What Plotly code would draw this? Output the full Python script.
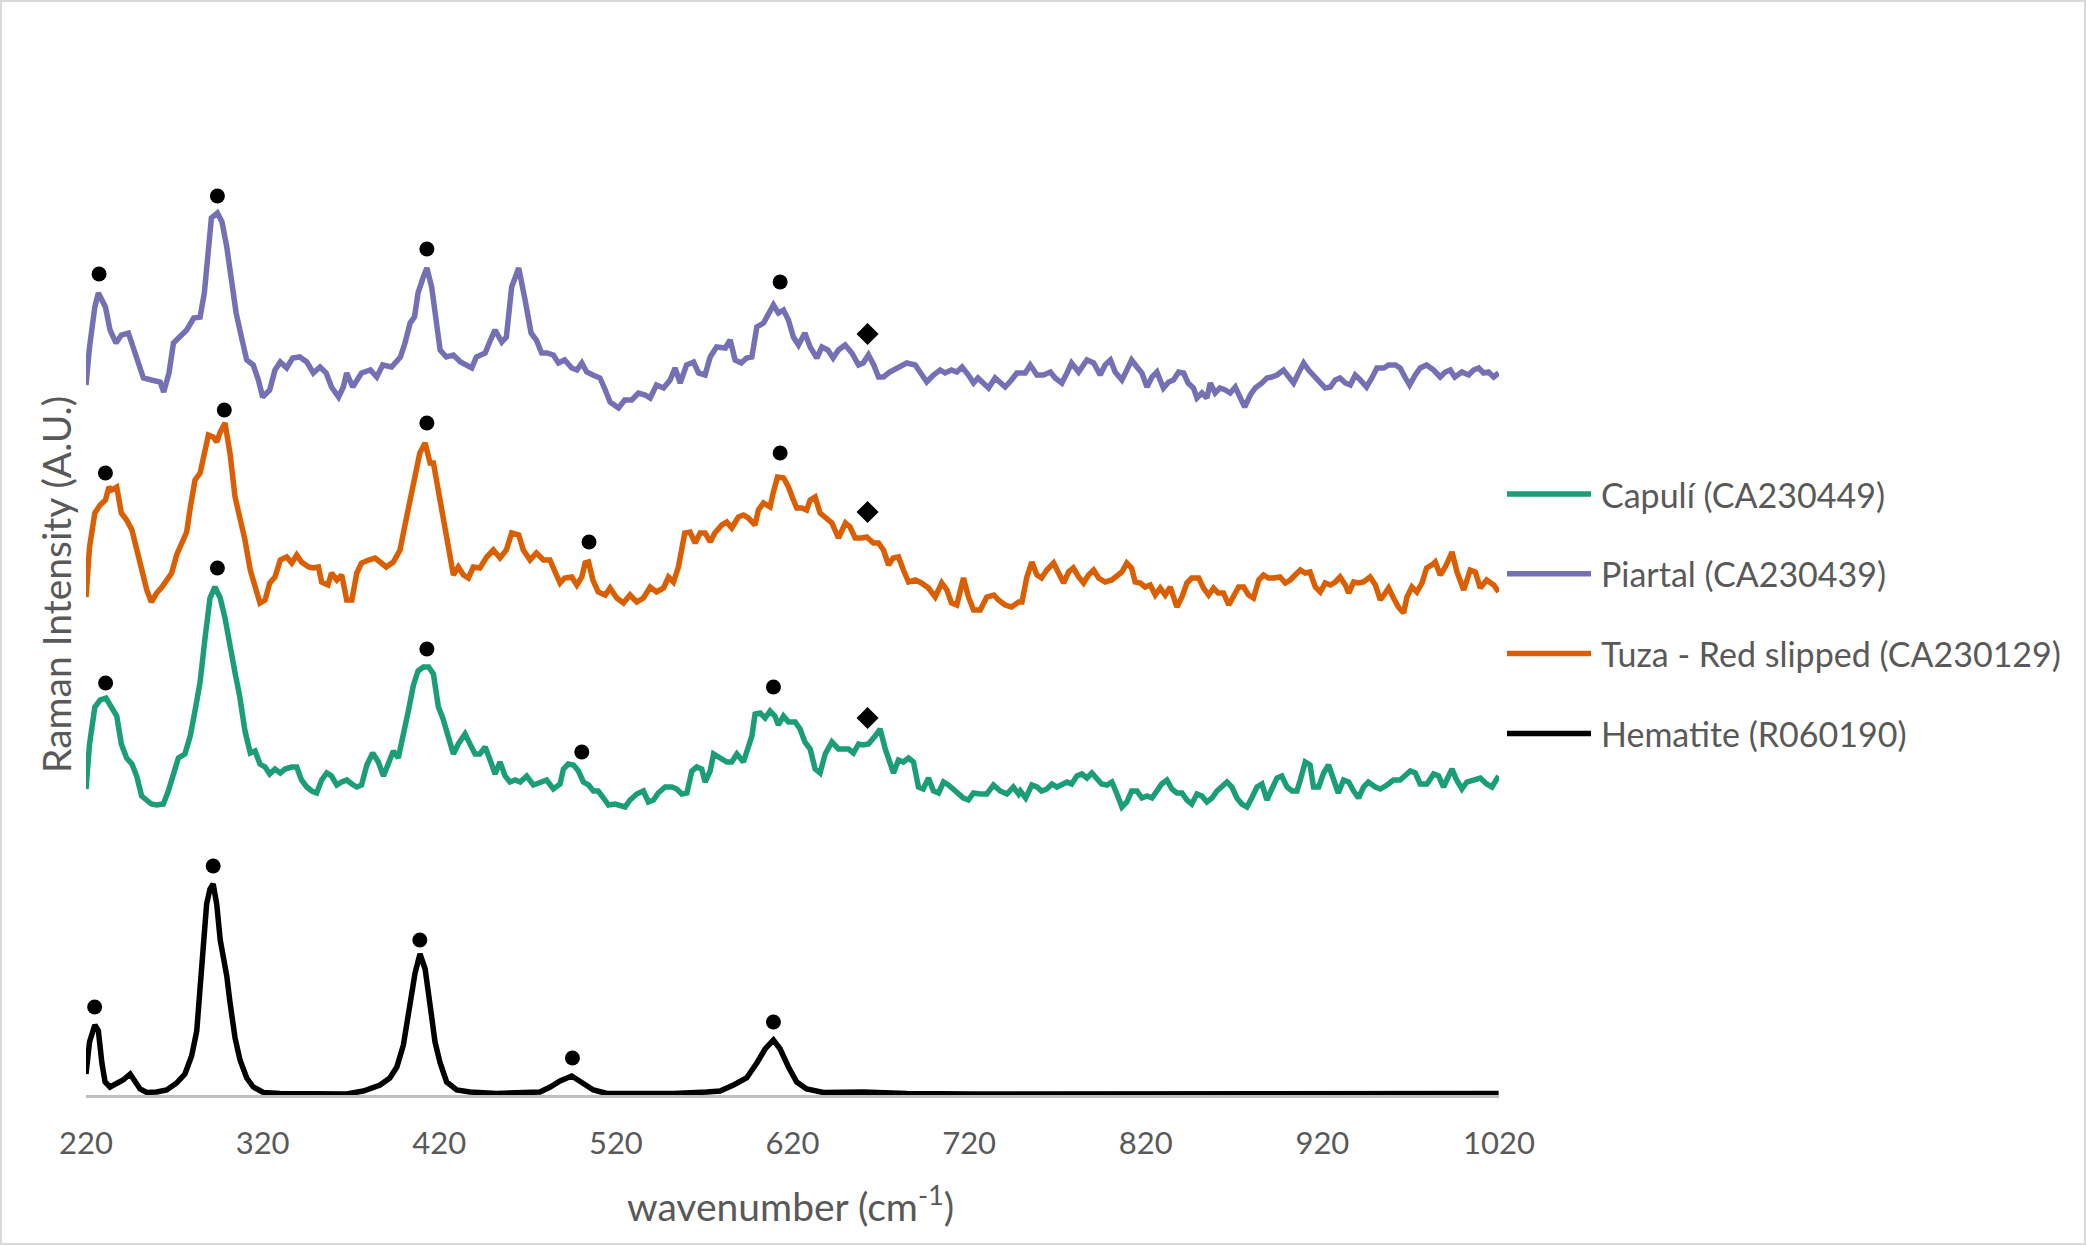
"""Raman spectra of red-slipped sherds vs hematite reference."""

import plotly.graph_objects as go

# ---- data (wavenumber in cm-1, intensity in arbitrary units, already offset) ----
PIARTAL_WN = [
    220, 222, 225, 227, 231, 233.6, 237, 240, 244, 247, 250, 252.5, 257, 262, 264, 267, 269.5, 273,
    277, 281, 284.6, 287, 289, 291, 294.4, 297, 299.7, 302.5, 305, 308, 311, 314.7, 317.6, 320, 324,
    327, 330, 333.6, 337, 341, 345, 348.7, 352.5, 356, 359, 363, 365.7, 367.6, 371, 376, 381, 384.6,
    388, 393, 398, 400.6, 403.5, 406, 408, 411, 413, 415.7, 417.6, 420.5, 424, 428, 432, 435.6, 438.4,
    441, 446, 449, 451.6, 455.4, 458, 461, 465, 468.6, 472, 475, 478, 481, 484.6, 487.5,
    491, 495, 498, 500.7, 503.5, 507, 511, 514, 516.7, 521.5, 525, 529, 532.8, 536.6, 539.4, 543, 547,
    550.7, 553.5, 556.4, 560, 564, 566.8, 570.5, 573.4, 577, 582, 584.7, 587.5, 591, 594, 597, 599.8,
    603.6, 606.4, 609.2, 612, 614.9, 617.7, 620.5, 623.4, 627, 630, 633.8, 636.6, 640, 643, 646, 649.8,
    653.6, 657.4, 660, 663, 666, 668.7, 671.5, 675, 680, 684.7, 689.5, 693, 696, 699.8, 703.6, 706.4,
    710, 713, 716, 719.6, 722.5, 725, 729, 731, 734.7, 737.5, 740.4, 744, 747,
    749, 751.8, 754.6, 758.4, 762, 766, 768.7, 772.5, 775.4, 778, 782, 786.7, 790.5, 794.2, 797, 800,
    802.7, 806.5, 809.3, 812, 815, 817.8, 820.7, 823.5, 826.3, 830, 833, 835.7, 838.6, 841.4, 844, 847,
    849, 851.8, 854.6, 856.5, 859.3, 862, 865, 867.8, 870.7, 873.5, 876, 879.2, 882, 885.8, 888.6,
    891.4, 894.3, 898, 900.9, 903.7, 906.5, 909.4, 912.2, 916, 918.8, 921.6, 924.5, 927.3, 930, 933,
    935.8, 938.6, 941.5, 945, 948, 950.9, 954.7, 957.5, 961.3, 964, 967, 969.4, 972.6, 975.4, 979, 983,
    986.7, 989.6, 992.4, 995, 999, 1002.8, 1005.6, 1008.5, 1011.3, 1014, 1017, 1019.8,
]
PIARTAL_I = [
    710, 748, 788, 802, 788, 765, 752, 760, 762, 745, 728, 717, 715, 713, 703, 722, 752, 758,
    765, 777, 778, 802, 848, 877, 882, 873, 848, 808, 782, 758, 735, 730, 715, 698, 705,
    725, 733, 727, 737, 738, 733, 722, 728, 722, 708, 698, 708, 722, 708, 722, 725, 718,
    730, 728, 738, 752, 772, 778, 802, 818, 827, 808, 782, 745, 738, 740, 733, 730, 727,
    738, 742, 755, 765, 753, 758, 808, 827, 795, 762, 755, 742, 742, 740, 732,
    735, 727, 725, 732, 723, 720, 717, 705, 693, 687, 695, 695, 702, 700, 697, 710, 707,
    715, 727, 712, 730, 733, 722, 720, 738, 748, 747, 755, 735, 732, 737, 738, 768,
    772, 780, 790, 782, 785, 775, 758, 750, 762, 748, 737, 748, 745, 737, 745, 750,
    742, 730, 732, 740, 730, 718, 718, 723, 727, 732, 730, 722, 713, 720, 725, 722,
    725, 723, 728, 720, 712, 717, 710, 707, 717, 713, 708, 715, 722,
    722, 722, 730, 720, 720, 723, 717, 712, 722, 732, 723, 735, 732, 720, 730, 735,
    723, 715, 725, 735, 728, 722, 708, 718, 723, 707, 713, 715, 723, 722, 712, 707,
    697, 702, 697, 712, 702, 707, 705, 702, 708, 698, 688, 700, 707, 712, 717,
    718, 720, 725, 718, 712, 722, 732, 725, 717, 713, 707, 708, 715, 717, 712,
    710, 720, 715, 708, 717, 727, 727, 730, 730, 727, 717, 710, 720, 727, 730, 725,
    718, 723, 725, 718, 723, 720, 725, 727, 722, 723, 718, 722,
]

TUZA_WN = [
    220, 222, 225, 228, 231, 233, 234.5, 237.4, 240, 243, 246, 248.7, 251.5, 254.4, 257, 260, 263,
    265.7, 268.5, 271.3, 274, 277, 279, 281.7, 284.6, 286.4, 289.3, 292, 294, 296, 298.7, 301.5, 304.4,
    307, 310, 313, 315.7, 318.5, 321.4, 324, 327, 330, 333.6, 336.5, 339.3, 342, 346, 348.7, 351.6,
    353.4, 357, 359, 362, 364.8, 367.6, 370.5, 373.3, 376, 380, 383.7, 386.5, 390, 394, 397.8, 400.6,
    403.5, 406, 409, 412, 414.8, 416.7, 419.5, 422, 425, 428, 430.8, 433.7, 436.5, 439.3, 443, 446.9,
    450.6, 454.4, 458, 461, 465, 467.6, 471.4, 475, 479, 482.7, 485.6, 488.4,
    491, 495, 497.9, 500.7, 502.6, 504.5, 507, 510, 514, 516.7, 520.5, 524.3, 528, 531.8, 535.6, 539.4,
    543, 547, 549.8, 552.6, 555.4, 557.3, 559, 562, 564.9, 567.7, 570.5, 573.4, 576, 580, 582.8, 585.6,
    589.4, 592.2, 595, 598.8, 600.7, 603.6, 607.3, 609.2, 611.5, 615, 617.7, 620.5, 622.4, 625.3, 628,
    630, 632.8, 635.6, 639.4, 642.3, 646, 650, 652.6, 655.5, 659, 662, 665.8, 668.7, 671.5, 674.4, 677,
    680, 682.8, 685.7, 689.5, 693, 697, 700.8, 704.5, 707.4, 710, 713, 716.8, 719.6, 722.5, 726.3, 730,
    734, 736.6, 740.4, 744, 748,
    749.9, 752.7, 755.5, 758.4, 761, 764, 767.8, 770.6, 773.5, 776.3, 779, 782, 784.8, 787.6, 790.5,
    793.3, 797, 800.8, 803.7, 806.5, 809.3, 812, 814, 816.9, 819.7, 822.5, 825.4, 828.2, 831, 833.9,
    837.6, 840.5, 843.3, 846, 850, 852.7, 855.6, 858.4, 861, 864, 867, 869.7, 872.6, 875.4, 878.2, 881,
    884, 886.7, 889.5, 892.4, 896, 899, 901.8, 904.6, 907.5, 910.3, 913, 916, 918.8, 921.6, 924.5,
    927.3, 930, 933, 934.9, 937.7, 940.5, 943.3, 947, 950, 952.8, 955.6, 957.5, 960.3, 963, 966, 967.9,
    970.7, 973.5, 976.4, 979, 982, 983.9, 986.7, 989.6, 993.4, 996.2, 1000, 1003.7, 1006.6, 1009.4,
    1013, 1017, 1019.8,
]
TUZA_I = [
    498, 548, 582, 590, 595, 608, 605, 608, 582, 575, 565, 545, 522, 505, 493, 502, 508,
    515, 522, 540, 552, 563, 587, 615, 622, 638, 660, 658, 653, 663, 672, 642, 598,
    578, 555, 525, 508, 492, 495, 512, 518, 535, 538, 532, 540, 533, 528, 527, 528,
    513, 510, 522, 515, 520, 495, 495, 522, 532, 535, 537, 533, 528, 533, 545, 570,
    595, 622, 642, 652, 632, 632, 605, 575, 545, 520, 528, 520, 517, 528, 527, 538,
    545, 537, 545, 562, 560, 545, 535, 542, 535, 535, 523, 512,
    517, 518, 510, 518, 532, 533, 515, 503, 500, 507, 497, 492, 500, 493, 497, 508,
    503, 507, 518, 513, 528, 548, 562, 563, 552, 562, 562, 553, 562, 570, 573, 567,
    578, 580, 577, 570, 585, 592, 588, 603, 618, 617, 608, 595, 587, 587, 585,
    595, 598, 582, 577, 572, 557, 572, 568, 557, 557, 558, 552, 552, 545, 530, 537,
    538, 525, 513, 515, 512, 507, 498, 512, 505, 492, 490, 517, 498, 485, 485, 498,
    500, 495, 490, 488, 493,
    493, 518, 533, 520, 517, 525, 532, 522, 512, 523, 527, 518, 512, 520, 525,
    517, 513, 515, 520, 523, 532, 527, 513, 512, 508, 510, 500, 507, 500, 508,
    488, 498, 512, 517, 517, 507, 500, 507, 502, 502, 490, 500, 508, 508, 500, 497,
    515, 520, 517, 517, 518, 512, 515, 520, 525, 522, 523, 508, 503, 512, 510,
    513, 518, 510, 502, 513, 512, 513, 518, 510, 495, 502, 507, 497, 488, 482, 498,
    508, 503, 512, 527, 530, 533, 520, 528, 543, 523, 505, 525, 523, 507,
    515, 510, 503,
]

CAPULI_WN = [
    220, 222, 225, 228, 231.3, 234.5, 237.4, 240, 243, 246, 248.7, 251.5, 254.4, 257, 260, 263.8,
    266.6, 269.5, 272.3, 276, 279, 281.7, 284.6, 287.4, 290.2, 293, 296, 298.7, 301.5, 304.4, 307, 310,
    313, 315.7, 318.5, 321.4, 324, 327, 330, 332.7, 336.5, 339.3, 342, 345, 347.8, 350.6, 353.4, 356.3,
    359, 362, 364.8, 367.6, 370.5, 373.3, 376, 379, 382.3, 385.5, 388.4, 391, 394, 396.8, 399.7, 402.5,
    405.4, 408, 411, 414, 416.7, 419.5, 422, 425, 428, 430.8, 434.6, 437.4, 440.3, 443, 446, 448.8,
    451.6, 454.4, 457.3, 460, 463, 465.8, 469.5, 473.3, 477, 480.8, 484.6, 488.4,
    490.3, 493, 496, 498.8, 501.6, 504.5, 507.3, 510, 513, 515.8, 519.6, 522.4, 525.2, 528, 531.8,
    535.6, 538.4, 541.3, 544, 547.9, 551.7, 554.5, 557.3, 560.2, 563, 565.8, 568.6, 570.5, 573.4, 575.3,
    579, 582.8, 585.6, 588.5, 592.2, 595, 597, 598.8, 601.7, 604.5, 607.3, 610, 612, 614.9, 617.7,
    621.5, 624.3, 627, 630, 632.8, 635.6, 638.5, 642.3, 646, 648.9, 651.7, 654.5, 657.4, 660, 663,
    666.8, 669.6, 672.5, 675.3, 677.2, 680, 682.8, 685.7, 688.5, 691.3, 694, 697, 699.8, 702.7, 705.5,
    708.3, 711, 714, 716.8, 719.6, 722.5, 726.3, 730, 733.8, 737.6, 741.4, 745, 748,
    749, 752, 755.5, 758.4, 761, 764, 766.9, 769.7, 772.5, 775.4, 778, 781, 783.8, 786.7, 789.5, 792.3,
    795, 798, 800.8, 803.7, 806.5, 809.3, 812, 815, 817.8, 820.7, 823.5, 826.3, 829, 832, 834.8, 837.6,
    840.5, 843.3, 846, 849, 851.8, 854.6, 857.5, 860.3, 863, 866, 868.8, 871.6, 874.4, 877.3, 880, 883,
    885.8, 888.6, 891.4, 894.3, 897, 900, 902.8, 905.6, 907.5, 910.3, 913, 915, 917.9, 920.7, 923.5,
    926.4, 929, 932, 934.9, 937.7, 940.5, 943.3, 946, 950, 952.8, 956.6, 960.3, 964, 967, 969.8, 972.6,
    975.4, 979.2, 983, 985.8, 988.6, 991.5, 993.4, 996, 999, 1001.8, 1005.6, 1009.4, 1013, 1016, 1019.8,
]
CAPULI_I = [
    306, 351, 388, 395, 397, 388, 379, 351, 337, 331, 319, 299, 295, 291, 290, 291,
    304, 322, 337, 341, 359, 384, 413, 457, 497, 508, 497, 477, 453, 422, 399, 364,
    342, 344, 331, 328, 321, 326, 322, 326, 328, 328, 315, 308, 304, 302, 315, 322,
    319, 310, 313, 315, 311, 308, 310, 330, 342, 333, 319, 330, 344, 337, 359, 384,
    410, 424, 428, 428, 421, 388, 377, 361, 341, 351, 361, 351, 341, 341, 348, 335,
    321, 333, 319, 313, 315, 313, 319, 310, 313, 315, 306, 311,
    326, 331, 330, 324, 313, 310, 304, 304, 297, 290, 291, 290, 288, 295, 301,
    304, 293, 295, 302, 308, 308, 306, 301, 302, 324, 328, 326, 313, 324, 341,
    337, 333, 333, 341, 333, 348, 359, 381, 382, 377, 384, 379, 370, 379, 373,
    373, 366, 353, 346, 326, 322, 341, 353, 346, 346, 346, 342, 351, 350, 351,
    359, 366, 346, 331, 322, 335, 333, 337, 333, 308, 306, 317, 304, 302, 313,
    310, 306, 302, 297, 295, 302, 301, 301, 310, 304, 301, 308, 301,
    304, 297, 310, 308, 304, 306, 311, 308, 310, 313, 311, 319, 321, 317, 322, 317,
    311, 310, 313, 301, 288, 293, 304, 304, 297, 299, 297, 304, 311, 315, 306, 302,
    302, 295, 291, 301, 299, 293, 297, 304, 308, 313, 308, 297, 291, 288, 297, 308,
    311, 295, 306, 317, 319, 308, 304, 304, 315, 333, 330, 308, 308, 322, 330,
    313, 302, 315, 313, 304, 297, 308, 313, 308, 306, 310, 315, 315, 319, 324, 322,
    311, 311, 321, 319, 308, 319, 326, 315, 306, 313, 315, 317, 311, 308, 319,
]

HEMATITE_WN = [
    220, 222, 225, 227, 229, 230.8, 233.6, 237.4, 241, 245, 247.7, 250.6, 254.4, 260, 265.7, 271.3,
    276, 279.8, 282.7, 284.6, 286.4, 288.3, 290.2, 292, 294, 296, 297.8, 299.7, 301.5, 304.4, 307.2,
    311, 314.7, 320.4, 329.9, 348.7, 367.6, 377, 386.5, 392, 396, 399.7, 403.5, 406.3, 409.1, 412,
    414.8, 417.6, 420.5, 424.2, 429.9, 437.4, 452.5, 471.4, 477, 482.8, 488.4, 495, 500.7, 507.3,
    514.9, 533.7, 552.6, 571.5, 579, 586.6, 594, 599.8, 604.5, 609.2, 613, 617.7, 622.4, 628, 637.5,
    660, 684.7, 722.5, 749, 800, 850, 900, 950, 1019.8,
]
HEMATITE_I = [
    21, 53, 70, 64, 32, 13, 8, 12, 15, 21, 13, 6, 2.5, 3, 5, 12,
    21, 39, 64, 101, 148, 191, 206, 211, 191, 155, 137, 119, 93, 57, 35,
    17, 8, 2.5, 1.5, 1, 1, 4, 10, 17, 28, 50, 90, 122, 141, 126,
    90, 53, 32, 13, 5, 3, 1.5, 2, 3, 8, 14, 19, 13, 5,
    1.5, 1, 1.5, 3, 4, 10, 17, 32, 46, 55, 46, 28, 13, 6, 2.5,
    3, 1.5, 1, 1, 2, 1.5, 2, 1.5, 1.5,
]

# peak annotations: hematite bands (dots) and the extra band (diamonds)
DOT_WN = [227.4, 294.4, 413, 613, 231, 298.3, 413, 504.8, 613,
          231.1, 294.4, 413, 500.7, 609.2, 224.9, 292, 409, 495.4, 609.2]
DOT_I = [821, 899, 846, 813, 622, 685, 672, 553, 642,
         412, 527, 446, 343, 408, 88, 229, 155, 37, 73]
DIAMOND_WN = [662.5, 662.5, 662.5]
DIAMOND_I = [761, 583, 377]

X_TICKS = [220, 320, 420, 520, 620, 720, 820, 920, 1020]

# legend order matches the reference
SERIES = [
    ("Capulí (CA230449)", CAPULI_WN, CAPULI_I, "#1b9e77"),
    ("Piartal (CA230439)", PIARTAL_WN, PIARTAL_I, "#7570b3"),
    ("Tuza - Red slipped (CA230129)", TUZA_WN, TUZA_I, "#d95f02"),
    ("Hematite (R060190)", HEMATITE_WN, HEMATITE_I, "#000000"),
]

W, H = 2086, 1245
L, R, T, B = 86, 587, 95, 150
PW, PH = W - L - R, H - T - B
TEXT = "#595959"
FONT = "Lato, 'Open Sans', sans-serif"


def px_x(px):
    # pixel column -> paper x
    return (px - L) / PW


def px_y(px):
    # pixel row -> paper y
    return (H - B - px) / PH


fig = go.Figure()
for name, wn, inten, color in SERIES:
    fig.add_trace(go.Scatter(x=wn, y=inten, name=name, mode="lines",
                             line=dict(color=color, width=5.5), showlegend=False))

fig.add_trace(go.Scatter(x=DOT_WN, y=DOT_I, mode="markers", showlegend=False,
                         marker=dict(symbol="circle", size=15, color="black")))
fig.add_trace(go.Scatter(x=DIAMOND_WN, y=DIAMOND_I, mode="markers", showlegend=False,
                         marker=dict(symbol="diamond", size=17, color="black")))

# hand-drawn legend so the line keys are as long as in the original
shapes, annotations = [], []
for i, (name, _, _, color) in enumerate(SERIES):
    yy = px_y(494 + i * 79.8)
    shapes.append(dict(type="line", xref="paper", yref="paper", x0=px_x(1507), x1=px_x(1591),
                       y0=yy, y1=yy, line=dict(color=color, width=5.5)))
    annotations.append(dict(xref="paper", yref="paper", x=px_x(1599), y=yy, text=name,
                            showarrow=False, xanchor="left", yanchor="middle",
                            font=dict(size=34, color=TEXT, family=FONT)))

annotations.append(dict(xref="paper", yref="paper", x=px_x(790), y=px_y(1203),
                        text="wavenumber (cm<sup>-1</sup>)", showarrow=False,
                        xanchor="center", yanchor="middle",
                        font=dict(size=39, color=TEXT, family=FONT)))
annotations.append(dict(xref="paper", yref="paper", x=px_x(56), y=px_y(585),
                        text="Raman Intensity (A.U.)", showarrow=False, textangle=-90,
                        xanchor="center", yanchor="middle",
                        font=dict(size=39, color=TEXT, family=FONT)))

# chart-area border
shapes.append(dict(type="rect", xref="paper", yref="paper",
                   x0=px_x(1), x1=px_x(W - 1), y0=px_y(H - 1), y1=px_y(1),
                   line=dict(color="#d9d9d9", width=2)))

fig.update_layout(
    width=W, height=H,
    margin=dict(l=L, r=R, t=T, b=B),
    paper_bgcolor="white", plot_bgcolor="white",
    font=dict(family=FONT, color=TEXT),
    shapes=shapes, annotations=annotations,
)
fig.update_xaxes(range=[220, 1020], tickvals=X_TICKS, showgrid=False, zeroline=False,
                 showline=True, linecolor="#bfbfbf", linewidth=2.5, ticks="",
                 ticklabelstandoff=19, tickfont=dict(size=31, color=TEXT, family=FONT))
fig.update_yaxes(range=[0, 1000], visible=False)

# drop the default page margin so the figure sits flush in the window
fig.write_html("out.html", config={"displayModeBar": False},
               post_script="document.body.style.margin='0';")
